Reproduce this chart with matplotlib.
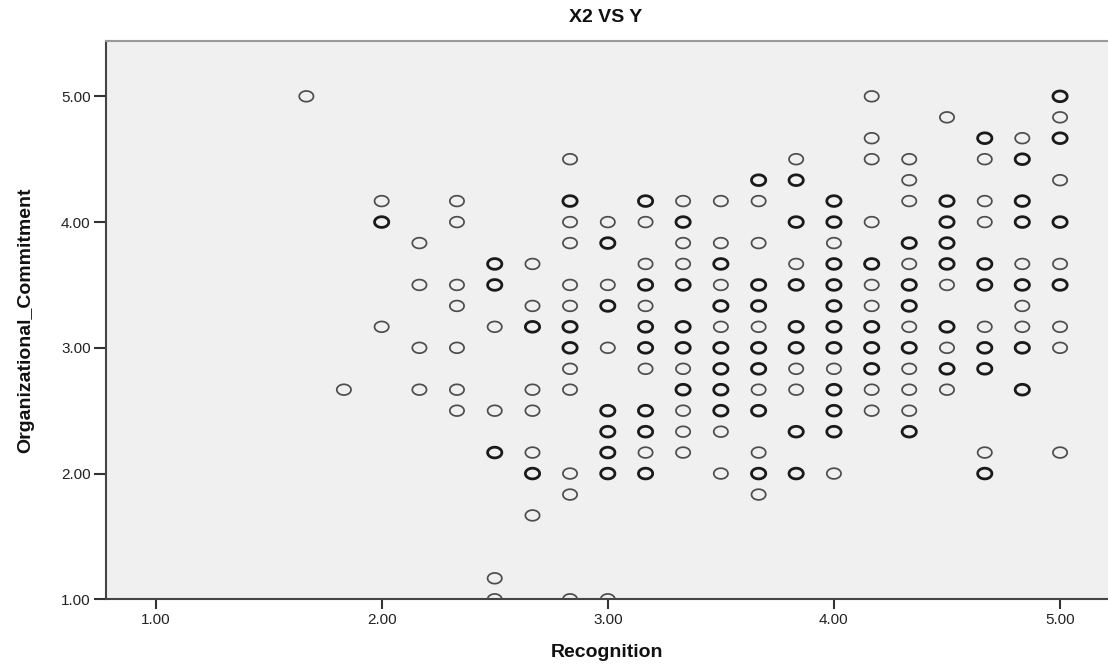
import matplotlib
matplotlib.use("Agg")
import matplotlib.pyplot as plt
import numpy as np
from matplotlib.path import Path

plt.rcParams['font.family'] = ['Liberation Sans Narrow', 'Liberation Sans', 'DejaVu Sans']

# Data: Recognition (x), Organizational_Commitment (y), overlap weight (1 = single, 2 = overlapping/bold)
col_x = [1.667, 1.833, 2.0, 2.167, 2.333, 2.5, 2.667, 2.833, 3.0, 3.167, 3.333, 3.5,
         3.667, 3.833, 4.0, 4.167, 4.333, 4.5, 4.667, 4.833, 5.0]
col_y = [
    [5.0],
    [2.667],
    [4.167, 4.0, 3.167],
    [3.833, 3.5, 3.0, 2.667],
    [4.167, 4.0, 3.5, 3.333, 3.0, 2.667, 2.5],
    [3.667, 3.5, 3.167, 2.5, 2.167, 1.167, 1.0],
    [3.667, 3.333, 3.167, 2.667, 2.5, 2.167, 2.0, 1.667],
    [4.5, 4.167, 4.0, 3.833, 3.5, 3.333, 3.167, 3.0, 2.833, 2.667, 2.0, 1.833, 1.0],
    [4.0, 3.833, 3.5, 3.333, 3.0, 2.5, 2.333, 2.167, 2.0, 1.0],
    [4.167, 4.0, 3.667, 3.5, 3.333, 3.167, 3.0, 2.833, 2.5, 2.333, 2.167, 2.0],
    [4.167, 4.0, 3.833, 3.667, 3.5, 3.167, 3.0, 2.833, 2.667, 2.5, 2.333, 2.167],
    [4.167, 3.833, 3.667, 3.5, 3.333, 3.167, 3.0, 2.833, 2.667, 2.5, 2.333, 2.0],
    [4.333, 4.167, 3.833, 3.5, 3.333, 3.167, 3.0, 2.833, 2.667, 2.5, 2.167, 2.0, 1.833],
    [4.5, 4.333, 4.0, 3.667, 3.5, 3.167, 3.0, 2.833, 2.667, 2.333, 2.0],
    [4.167, 4.0, 3.833, 3.667, 3.5, 3.333, 3.167, 3.0, 2.833, 2.667, 2.5, 2.333, 2.0],
    [5.0, 4.667, 4.5, 4.0, 3.667, 3.5, 3.333, 3.167, 3.0, 2.833, 2.667, 2.5],
    [4.5, 4.333, 4.167, 3.833, 3.667, 3.5, 3.333, 3.167, 3.0, 2.833, 2.667, 2.5, 2.333],
    [4.833, 4.167, 4.0, 3.833, 3.667, 3.5, 3.167, 3.0, 2.833, 2.667],
    [4.667, 4.5, 4.167, 4.0, 3.667, 3.5, 3.167, 3.0, 2.833, 2.167, 2.0],
    [4.667, 4.5, 4.167, 4.0, 3.667, 3.5, 3.333, 3.167, 3.0, 2.667],
    [5.0, 4.833, 4.667, 4.333, 4.0, 3.667, 3.5, 3.167, 3.0, 2.167],
]
col_n = [
    [1],
    [1],
    [1, 2, 1],
    [1, 1, 1, 1],
    [1, 1, 1, 1, 1, 1, 1],
    [2, 2, 1, 1, 2, 1, 1],
    [1, 1, 2, 1, 1, 1, 2, 1],
    [1, 2, 1, 1, 1, 1, 2, 2, 1, 1, 1, 1, 1],
    [1, 2, 1, 2, 1, 2, 2, 2, 2, 1],
    [2, 1, 1, 2, 1, 2, 2, 1, 2, 2, 1, 2],
    [1, 2, 1, 1, 2, 2, 2, 1, 2, 1, 1, 1],
    [1, 1, 2, 1, 2, 1, 2, 2, 2, 2, 1, 1],
    [2, 1, 1, 2, 2, 1, 2, 2, 1, 2, 1, 2, 1],
    [1, 2, 2, 1, 2, 2, 2, 1, 1, 2, 2],
    [2, 2, 1, 2, 2, 2, 2, 2, 1, 2, 2, 2, 1],
    [1, 1, 1, 1, 2, 1, 1, 2, 2, 2, 1, 1],
    [1, 1, 1, 2, 1, 2, 2, 1, 2, 1, 1, 1, 2],
    [1, 2, 2, 2, 2, 1, 2, 1, 2, 1],
    [2, 1, 1, 1, 2, 2, 1, 2, 2, 1, 2],
    [1, 2, 2, 2, 1, 2, 1, 1, 2, 2],
    [2, 1, 2, 1, 2, 1, 2, 1, 1, 1],
]

title = "X2 VS Y"
x_label = "Recognition"
y_label = "Organizational_Commitment"
x_ticks = [1.0, 2.0, 3.0, 4.0, 5.0]
y_ticks = [1.0, 2.0, 3.0, 4.0, 5.0]

xs, ys, ns = [], [], []
for cx, cy, cn in zip(col_x, col_y, col_n):
    for yy, nn in zip(cy, cn):
        xs.append(cx); ys.append(yy); ns.append(nn)
xs = np.array(xs); ys = np.array(ys); ns = np.array(ns)

# slightly wide ellipse marker (SPSS look)
t = np.linspace(0, 2 * np.pi, 60)
ell = Path(np.column_stack([1.33 * np.cos(t), np.sin(t)]), closed=True)

W, H = 1108, 666
fig = plt.figure(figsize=(W / 100, H / 100), dpi=100)
ax_l, ax_b, ax_t = 106, 599.3, 41
ax = fig.add_axes([ax_l / W, (H - ax_b) / H, 1 - ax_l / W, (ax_b - ax_t) / H])
ax.set_facecolor('#f0f0f0')

m1 = ns == 1
m2 = ns >= 2
ax.scatter(xs[m1], ys[m1], marker=ell, s=105, facecolors='none', edgecolors='#4d4d4d',
           linewidths=1.25, clip_on=True, zorder=3)
ax.scatter(xs[m2], ys[m2], marker=ell, s=105, facecolors='none', edgecolors='#1a1a1a',
           linewidths=2.0, clip_on=True, zorder=3)

ax.set_xlim(0.781, 5.212)
ax.set_ylim(1.0, 5.44)
ax.set_xticks(x_ticks)
ax.set_yticks(y_ticks)
ax.set_xticklabels([f"{v:.2f}" for v in x_ticks], fontsize=11)
ax.set_yticklabels([f"{v:.2f}" for v in y_ticks], fontsize=11)
ax.tick_params(axis='x', direction='out', length=7, width=1.5, color='#333333',
               labelcolor='#222222', pad=3)
ax.tick_params(axis='y', direction='out', length=9, width=1.5, color='#333333',
               labelcolor='#222222', pad=2)

ax.spines['right'].set_visible(False)
ax.spines['top'].set_color('#999999')
ax.spines['top'].set_linewidth(1.5)
for s in ('left', 'bottom'):
    ax.spines[s].set_color('#444444')
    ax.spines[s].set_linewidth(1.5)

fig.text(606 / W, 1 - 17 / H, title, ha='center', va='center', fontsize=14,
         fontweight='bold', color='#111111')
ax.set_xlabel(x_label, fontsize=14, fontweight='bold', color='#111111')
ax.xaxis.set_label_coords(0.5, -(644 - ax_b) / (ax_b - ax_t))
ax.set_ylabel(y_label, fontsize=14, fontweight='bold', color='#111111')
ax.yaxis.set_label_coords(-(ax_l - 34) / (W - ax_l), 0.5)

fig.savefig("out.png", dpi=100)
